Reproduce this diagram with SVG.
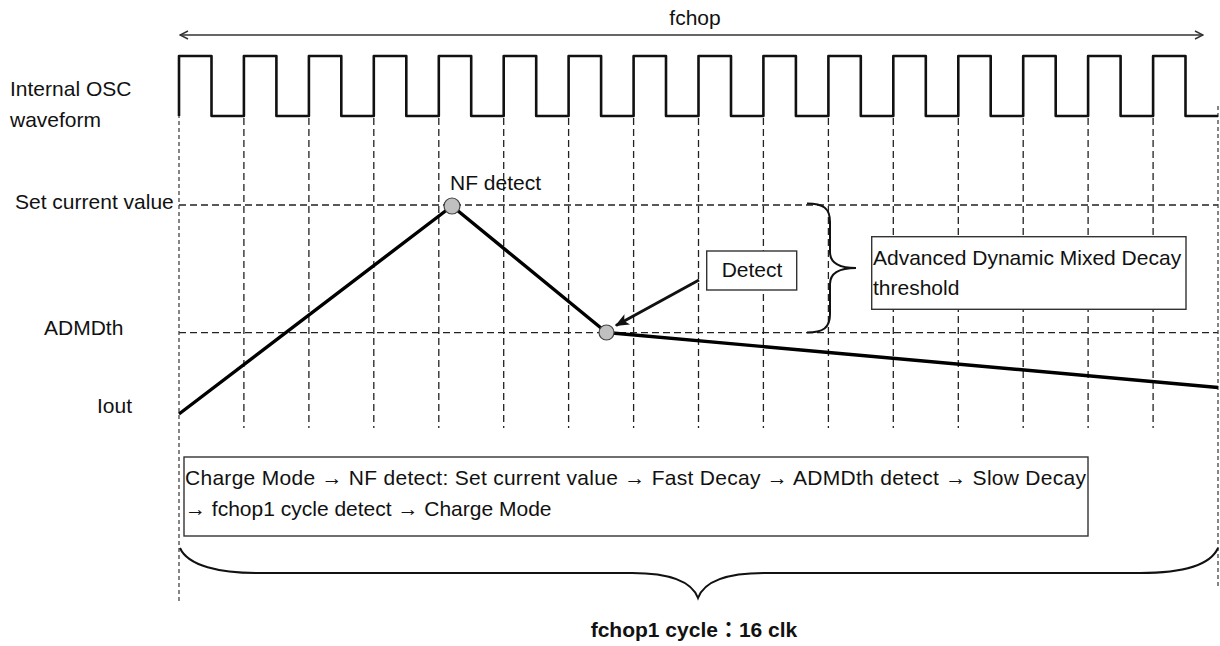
<svg xmlns="http://www.w3.org/2000/svg" width="1220" height="646" viewBox="0 0 1220 646">
<style>
.t{font-family:"Liberation Sans",Arial,sans-serif;font-size:21px;fill:#111}
.b{font-family:"Liberation Sans",Arial,"Noto Sans CJK JP",sans-serif;font-size:21px;font-weight:bold;fill:#111}
.grid{stroke:#222;stroke-width:1.3;stroke-dasharray:7 4;fill:none}
.outer{stroke:#444;stroke-width:1.3;stroke-dasharray:4 3;fill:none}
.box{fill:#fff;stroke:#333;stroke-width:1.4}
.brace{fill:none;stroke:#111;stroke-width:2}
.dot{fill:#c0c0c0;stroke:#444;stroke-width:1.2}
</style>
<defs>
<marker id="openArrow" viewBox="0 0 10 10" refX="9" refY="5" markerWidth="10" markerHeight="10" markerUnits="userSpaceOnUse" orient="auto-start-reverse">
<path d="M1,1 L9,5 L1,9" fill="none" stroke="#333" stroke-width="1.4"/>
</marker>
<marker id="solidArrow" viewBox="0 0 12 10" refX="11" refY="5" markerWidth="14" markerHeight="12" markerUnits="userSpaceOnUse" orient="auto">
<path d="M0,0 L12,5 L0,10 L3,5 Z" fill="#111"/>
</marker>
</defs>

<g id="grid">
<path class="grid" d="M243.9,118V428 M308.9,118V428 M373.8,118V428 M438.8,118V428 M503.7,118V428 M568.6,118V428 M633.6,118V428 M698.5,118V428 M763.4,118V428 M828.4,118V428 M893.3,118V428 M958.3,118V428 M1023.2,118V428 M1088.1,118V428 M1153.1,118V428"/>
<path class="grid" d="M179,205H1218 M179,332.7H1218"/>
<path class="outer" d="M179,114V603 M1218,106V587"/>
</g>

<g id="waveform">
<path d="M179,116 V56 H211.5 V116 H243.9 V56 H276.4 V116 H308.9 V56 H341.3 V116 H373.8 V56 H406.3 V116 H438.8 V56 H471.2 V116 H503.7 V56 H536.2 V116 H568.6 V56 H601.1 V116 H633.6 V56 H666 V116 H698.5 V56 H731 V116 H763.4 V56 H795.9 V116 H828.4 V56 H860.8 V116 H893.3 V56 H925.8 V116 H958.3 V56 H990.7 V116 H1023.2 V56 H1055.7 V116 H1088.1 V56 H1120.6 V116 H1153.1 V56 H1185.5 V116 H1218" fill="none" stroke="#111" stroke-width="2.6" stroke-linejoin="round"/>
</g>

<g id="labels">
<text class="t" x="10" y="96">Internal OSC</text>
<text class="t" x="10" y="127">waveform</text>
<text class="t" x="15" y="209">Set current value</text>
<text class="t" x="44" y="335">ADMDth</text>
<text class="t" x="97" y="413">Iout</text>
<text class="t" x="695" y="25" text-anchor="middle">fchop</text>
</g>

<g id="iout">
<polyline points="179,414 452,206 606.5,332.5 1218,387.5" fill="none" stroke="#000" stroke-width="3.4" stroke-linejoin="round"/>
</g>

<g id="nf-detect">
<circle class="dot" cx="452" cy="206" r="8"/>
<text class="t" x="450" y="190">NF detect</text>
</g>

<g id="admd-detect">
<circle class="dot" cx="606.5" cy="332.5" r="7.5"/>
</g>

<g id="detect-box">
<rect class="box" x="706.7" y="251" width="90" height="39"/>
<text class="t" x="752" y="277" text-anchor="middle">Detect</text>
</g>

<g id="threshold-brace">
<path class="brace" d="M807,203.5 C823,203.5 830,208 830,222 L830,252 C830,262 838,268 856,268 C838,268 830,274 830,284 L830,314 C830,328 823,332.5 807,332.5"/>
</g>

<g id="threshold-box">
<rect class="box" x="871.7" y="236.7" width="314.3" height="72.6"/>
<text class="t" x="873" y="265">Advanced Dynamic Mixed Decay</text>
<text class="t" x="873" y="295">threshold</text>
</g>

<g id="sequence-box">
<rect class="box" x="184" y="457" width="904" height="79"/>
<text class="t" x="185" y="485" textLength="901" lengthAdjust="spacing">Charge Mode → NF detect: Set current value → Fast Decay → ADMDth detect → Slow Decay</text>
<text class="t" x="185" y="516">→ fchop1 cycle detect → Charge Mode</text>
</g>

<g id="cycle-brace">
<path class="brace" d="M180,548 C188,566 220,573 257,573 L632,573 C670,573 692,582 698,598 C704,582 726,573 764,573 L1140,573 C1180,573 1210,566 1218,548"/>
<text class="b" x="694" y="637" text-anchor="middle">fchop1 cycle：16 clk</text>
</g>

<g id="connectors">
<line x1="180" y1="35" x2="1203" y2="35" stroke="#333" stroke-width="1.4" marker-start="url(#openArrow)" marker-end="url(#openArrow)"/>
<line x1="699" y1="280" x2="616" y2="325.5" stroke="#111" stroke-width="3" marker-end="url(#solidArrow)"/>
</g>
</svg>
